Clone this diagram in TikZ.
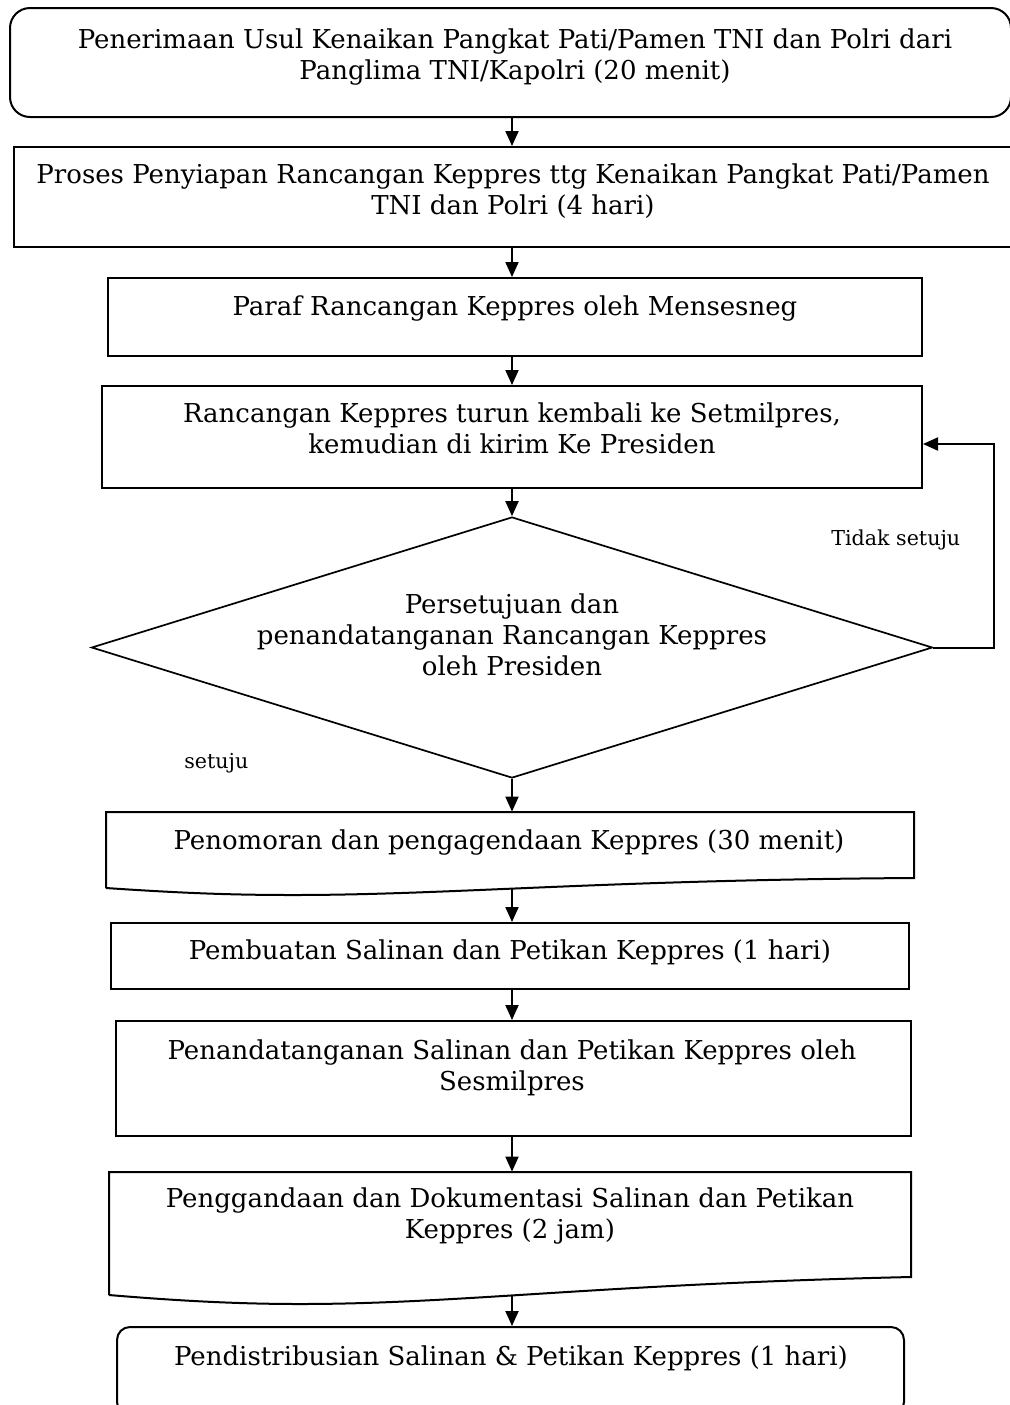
\documentclass[tikz,border=0pt]{standalone}
\usepackage{fontspec}
\setmainfont{DejaVu Serif}
\usetikzlibrary{arrows.meta,fit,shapes.geometric}
\tikzset{
  box/.style={draw, line width=1pt, inner sep=0pt},
  rbox/.style={box, rounded corners=10pt},
  lbl/.style={inner sep=0pt, anchor=base, font=\fontsize{13}{15.5}\selectfont},
  small/.style={inner sep=0pt, anchor=base west, font=\fontsize{10.3}{12}\selectfont},
  arr/.style={line width=1pt, -{Triangle[length=7.5pt,width=6.5pt]}},
  ln/.style={line width=1pt}
}
\newcommand{\ml}[1]{\setlength{\tabcolsep}{0pt}\begin{tabular}[t]{c}#1\end{tabular}}
\begin{document}
\begin{tikzpicture}[x=0.5pt,y=-0.5pt]
\useasboundingbox (0,0) rectangle (1009,1405);
\coordinate (ax) at (512,0);
% box 1
\node[rbox, fit={(10,8)(1011,117)}] (b1) {};
\node[lbl] (t1) at (515,48) {\ml{Penerimaan Usul Kenaikan Pangkat Pati/Pamen TNI dan Polri dari\\Panglima TNI/Kapolri (20 menit)}};
% box 2
\node[box, fit={(14,147)(1016,247)}] (b2) {};
\node[lbl] (t2) at (513,183) {\ml{Proses Penyiapan Rancangan Keppres ttg Kenaikan Pangkat Pati/Pamen\\TNI dan Polri (4 hari)}};
% box 3
\node[box, fit={(108,278)(922,356)}] (b3) {};
\node[lbl] (t3) at (515,315) {Paraf Rancangan Keppres oleh Mensesneg};
% box 4
\node[box, fit={(102,386)(922,488)}] (b4) {};
\node[lbl] (t4) at (512,422) {\ml{Rancangan Keppres turun kembali ke Setmilpres,\\kemudian di kirim Ke Presiden}};
% diamond
\node[diamond, draw, line width=0.85pt, inner sep=0pt, minimum width=420.5pt, minimum height=130.5pt, aspect=3.2] (dia) at (512,647.5) {};
\node[lbl] (t5) at (512,613) {\ml{Persetujuan dan\\penandatanganan Rancangan Keppres\\oleh Presiden}};
\node[small] (tno) at (831,545) {Tidak setuju};
\node[small] (tyes) at (184,768) {setuju};
% doc 6
\node[fit={(106,812)(914,878)}, inner sep=0pt] (b6) {};
\draw[ln] (106,888) -- (106,812) -- (914,812) -- (914,878)
  .. controls (600,880) and (450,895) .. (293,895)
  .. controls (230,895) and (180,893) .. (106,888);
\coordinate (b6b) at (512,889);
\node[lbl] (t6) at (509,849) {Penomoran dan pengagendaan Keppres (30 menit)};
% box 7
\node[box, fit={(111,923)(909,989)}] (b7) {};
\node[lbl] (t7) at (510,959) {Pembuatan Salinan dan Petikan Keppres (1 hari)};
% box 8
\node[box, fit={(116,1021)(911,1136)}] (b8) {};
\node[lbl] (t8) at (512,1059) {\ml{Penandatanganan Salinan dan Petikan Keppres oleh\\Sesmilpres}};
% doc 9
\node[fit={(109,1172)(911,1277)}, inner sep=0pt] (b9) {};
\draw[ln] (109,1295) -- (109,1172) -- (911,1172) -- (911,1277)
  .. controls (600,1284) and (460,1304) .. (300,1304)
  .. controls (240,1304) and (180,1301) .. (109,1295);
\coordinate (b9b) at (512,1296);
\node[lbl] (t9) at (510,1207) {\ml{Penggandaan dan Dokumentasi Salinan dan Petikan\\Keppres (2 jam)}};
% box 10
\node[rbox, rounded corners=6.5pt, fit={(117,1327)(904,1415)}] (b10) {};
\node[lbl] (t10) at (511,1365) {Pendistribusian Salinan \& Petikan Keppres (1 hari)};
% arrows
\draw[arr] (b1.south -| ax) -- (b2.north -| ax);
\draw[arr] (b2.south -| ax) -- (b3.north -| ax);
\draw[arr] (b3.south -| ax) -- (b4.north -| ax);
\draw[arr] (b4.south -| ax) -- (dia.north);
\draw[arr] (dia.south) -- (b6.north -| ax);
\draw[arr] (b6b) -- (b7.north -| ax);
\draw[arr] (b7.south -| ax) -- (b8.north -| ax);
\draw[arr] (b8.south -| ax) -- (b9.north -| ax);
\draw[arr] (b9b) -- (b10.north -| ax);
\coordinate (fb) at (994,444);
\draw[arr] (dia.east) -| (fb) -- (fb -| b4.east);
\end{tikzpicture}
\end{document}
